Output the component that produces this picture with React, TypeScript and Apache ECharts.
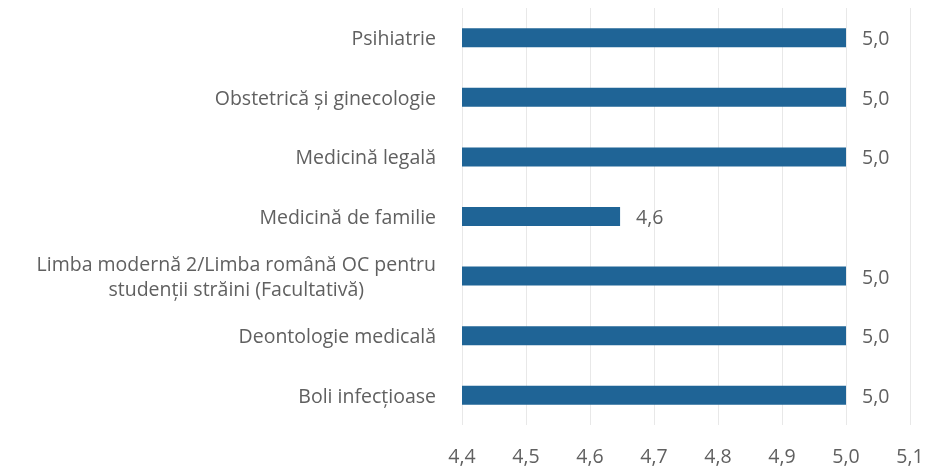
import React, { useEffect, useRef } from "react";
import * as echarts from "echarts";

const categories = [
  "Psihiatrie",
  "Obstetrică și ginecologie",
  "Medicină legală",
  "Medicină de familie",
  "Limba modernă 2/Limba română OC pentru\nstudenții străini (Facultativă)",
  "Deontologie medicală",
  "Boli infecțioase",
];
const values = [5.0, 5.0, 5.0, 4.647, 5.0, 5.0, 5.0];
const xMin = 4.4;
const xMax = 5.1;
const xStep = 0.1;

const FONT = "'Open Sans', 'Noto Sans', sans-serif";
const GREY = "#606060";
const FS = 19.5;

export default function App() {
  const ref = useRef<HTMLDivElement>(null);
  useEffect(() => {
    if (!ref.current) return;
    const chart = echarts.init(ref.current, undefined, { renderer: "svg" });
    chart.setOption({
      animation: false,
      grid: { left: 462, right: 18, top: 8, bottom: 48 },
      xAxis: {
        type: "value",
        min: xMin,
        max: xMax,
        interval: xStep,
        axisLine: { show: false },
        axisTick: { show: false },
        splitLine: { show: true, lineStyle: { color: "#e8e8e8", width: 1 } },
        axisLabel: {
          color: GREY,
          fontFamily: FONT,
          fontSize: FS,
          margin: 20,
          formatter: (v: number) => v.toFixed(1).replace(".", ","),
        },
      },
      yAxis: {
        type: "category",
        data: categories,
        inverse: true,
        axisLine: { show: false },
        axisTick: { show: false },
        axisLabel: {
          color: GREY,
          fontFamily: FONT,
          fontSize: FS,
          margin: 26,
          lineHeight: 25,
          formatter: (v: string) =>
            v.includes("\n")
              ? v
                  .split("\n")
                  .map((l) => `{c|${l}}`)
                  .join("\n")
              : v,
          rich: {
            c: {
              align: "center",
              color: GREY,
              fontFamily: FONT,
              fontSize: FS,
              lineHeight: 25,
            },
          },
        },
      },
      series: [
        {
          type: "bar",
          data: values,
          barWidth: 19,
          itemStyle: { color: "#1f6496" },
          label: {
            show: true,
            position: "right",
            distance: 16,
            color: GREY,
            fontFamily: FONT,
            fontSize: FS,
            formatter: (p: any) => Number(p.value).toFixed(1).replace(".", ","),
          },
        },
      ],
    });
    return () => chart.dispose();
  }, []);
  return (
    <div
      ref={ref}
      style={{ position: "fixed", left: 0, top: 0, width: 928, height: 473 }}
    />
  );
}
